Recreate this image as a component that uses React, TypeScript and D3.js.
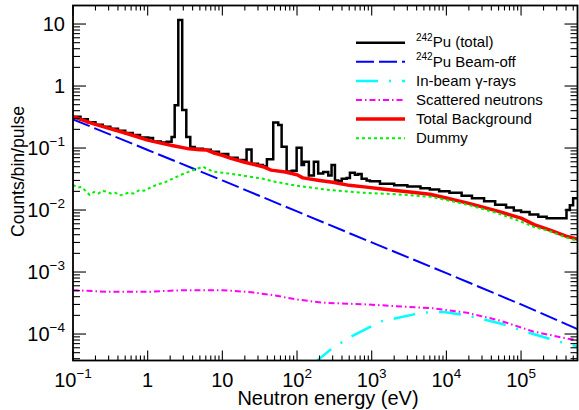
import React from "react";
import * as d3 from "d3";

type P = [number, number];

// ---- data (energy in eV, counts/bin/pulse) ----
const totalData: P[] = [
  [0.1, 0.32], [0.126, 0.29], [0.158, 0.26], [0.2, 0.238], [0.25, 0.22], [0.316, 0.205],
  [0.4, 0.19], [0.5, 0.175], [0.63, 0.162], [0.79, 0.148], [1.02, 0.145], [1.18, 0.127],
  [1.5, 0.123], [1.8, 0.126], [2.09, 0.15], [2.3, 0.49], [2.57, 11.6], [2.9, 0.41],
  [3.29, 0.15], [3.72, 0.104], [4.26, 0.097], [5.5, 0.094], [7, 0.087], [9, 0.08],
  [12, 0.07], [16, 0.064], [21.1, 0.095], [24.6, 0.056], [30, 0.053], [35, 0.051],
  [39.5, 0.066], [48, 0.257], [56, 0.236], [62.2, 0.105], [72.6, 0.042], [85, 0.043],
  [98.8, 0.101], [115, 0.053], [124, 0.06], [144, 0.036], [168, 0.06], [192, 0.039],
  [224, 0.041], [262, 0.036], [290, 0.053], [322, 0.03], [356, 0.029], [396, 0.032],
  [462, 0.033], [511, 0.04], [596, 0.037], [659, 0.038], [733, 0.032], [855, 0.03],
  [946, 0.029], [1290, 0.0265], [2000, 0.025], [3000, 0.024], [4500, 0.0225], [6000, 0.0215],
  [8000, 0.02], [11000, 0.019], [16000, 0.017], [22000, 0.0155], [32000, 0.0138],
  [45000, 0.0122], [63000, 0.011], [80000, 0.0098], [100000, 0.0093], [130000, 0.0085],
  [170000, 0.0078], [220000, 0.0074], [406000, 0.01], [450000, 0.0119], [498000, 0.0155],
  [570000, 0.0155],
];

const beamOffData: P[] = [
  [0.1, 0.29], [1, 0.093], [10, 0.03], [100, 0.0095], [1000, 0.003],
  [10000, 0.00096], [100000, 0.0003], [570000, 0.00012],
];

const inBeamGammaData: P[] = [
  [170, 3.4e-5], [275, 5.5e-5], [510, 8.9e-5], [1340, 1.6e-4], [4660, 2.2e-4],
  [9200, 2.27e-4], [19000, 2.0e-4], [56000, 1.45e-4], [145000, 1.0e-4],
  [400000, 7.0e-5], [570000, 6.3e-5],
];

const scatteredData: P[] = [
  [0.1, 5.1e-4], [0.3, 4.8e-4], [1, 4.8e-4], [3, 5.1e-4], [10, 5.1e-4], [25, 4.7e-4],
  [50, 4.2e-4], [100, 3.6e-4], [220, 3.2e-4], [850, 3.0e-4], [6700, 2.6e-4],
  [19000, 2.2e-4], [52000, 1.65e-4], [145000, 1.1e-4], [400000, 8.5e-5], [570000, 8.0e-5],
];

const totalBgData: P[] = [
  [0.1, 0.32], [0.18, 0.25], [0.28, 0.213], [0.5, 0.175], [0.78, 0.148], [1, 0.134],
  [1.5, 0.12], [2.2, 0.109], [3.6, 0.097], [5, 0.094], [6.1, 0.093], [7.5, 0.084],
  [10, 0.076], [13, 0.068], [20, 0.059], [35, 0.05], [45, 0.044], [70, 0.041],
  [100, 0.037], [120, 0.033], [200, 0.03], [300, 0.028], [500, 0.025], [850, 0.0234],
  [1300, 0.022], [2100, 0.0206], [3500, 0.0193], [6000, 0.018], [10000, 0.0156],
  [20000, 0.0128], [50000, 0.0095], [100000, 0.0074], [150000, 0.0058],
  [250000, 0.0047], [400000, 0.0038], [570000, 0.0034],
];

const dummyData: P[] = [
  [0.1, 0.0254], [0.115, 0.023], [0.13, 0.0235], [0.15, 0.02], [0.167, 0.0175],
  [0.19, 0.0195], [0.22, 0.0185], [0.25, 0.0205], [0.28, 0.0197], [0.32, 0.0185],
  [0.37, 0.019], [0.42, 0.0172], [0.47, 0.0178], [0.55, 0.019], [0.65, 0.0185],
  [0.78, 0.021], [0.9, 0.0205], [1.05, 0.0225], [1.3, 0.0254], [1.7, 0.028],
  [2.2, 0.0324], [2.8, 0.037], [3.6, 0.0417], [4.5, 0.046], [5.5, 0.05], [6.3, 0.046],
  [7.5, 0.0417], [10, 0.04], [17, 0.0367], [25, 0.034], [35, 0.032], [48, 0.029],
  [99, 0.0246], [276, 0.021], [760, 0.019], [2100, 0.018], [6000, 0.0164],
  [10000, 0.0145], [20000, 0.012], [50000, 0.0088], [100000, 0.0065],
  [150000, 0.0053], [250000, 0.0045], [400000, 0.0036], [570000, 0.0032],
];

const xMajorTicks = [0.1, 1, 10, 100, 1000, 10000, 100000];
const xTickLabels = ["10^−1", "1", "10", "10^2", "10^3", "10^4", "10^5"];
const yMajorTicks = [1e-4, 1e-3, 1e-2, 1e-1, 1, 10];
const yTickLabels = ["10^−4", "10^−3", "10^−2", "10^−1", "1", "10"];

const legendLabels = [
  { sup: "242", text: "Pu (total)" },
  { sup: "242", text: "Pu Beam-off" },
  { sup: "", text: "In-beam γ-rays" },
  { sup: "", text: "Scattered neutrons" },
  { sup: "", text: "Total Background" },
  { sup: "", text: "Dummy" },
];

const W = 579;
const H = 410;
const L = 73;
const R = 577.5;
const T = 5.5;
const B = 360.5;
const FONT = "'Liberation Sans', Arial, Helvetica, sans-serif";

const styles = [
  { color: "#000000", width: 2.5, dash: "" },
  { color: "#0000ff", width: 2, dash: "18 5" },
  { color: "#00ffff", width: 2.5, dash: "22 11 2 11" },
  { color: "#ff00ff", width: 2, dash: "6 3 1.5 3" },
  { color: "#ff0000", width: 3.5, dash: "" },
  { color: "#00ee00", width: 2, dash: "3 3" },
];

function Label({ s, ...rest }: any) {
  const [base, exp] = s.split("^");
  return (
    <text {...rest}>
      <tspan>{base}</tspan>
      {exp !== undefined && (
        <tspan dy={-9} fontSize={13.5}>
          {exp}
        </tspan>
      )}
    </text>
  );
}

export default function App() {
  const x = d3.scaleLog().domain([0.1, 5.7e5]).range([L, R]);
  const y = d3.scaleLog().domain([3.74e-5, 19.9]).range([B, T]);

  const lineLin = d3
    .line<P>()
    .x((d) => x(d[0]))
    .y((d) => y(d[1]));
  const lineStep = d3
    .line<P>()
    .x((d) => x(d[0]))
    .y((d) => y(d[1]))
    .curve(d3.curveStepAfter);

  const [, xMax] = x.domain();
  const [yMin, yMax] = y.domain();
  const xMinor: number[] = [];
  for (const d of xMajorTicks)
    for (let k = 2; k <= 9; k++) if (d * k <= xMax) xMinor.push(d * k);
  const yMinor: number[] = [];
  for (const d of [1e-5, ...yMajorTicks])
    for (let k = 2; k <= 9; k++) if (d * k >= yMin && d * k <= yMax) yMinor.push(d * k);

  const series = [
    { data: totalData, step: true },
    { data: beamOffData, step: false },
    { data: inBeamGammaData, step: false },
    { data: scatteredData, step: false },
    { data: totalBgData, step: false },
    { data: dummyData, step: false },
  ];

  const legendY0 = 42.7;
  const legendDy = 19.1;

  return (
    <svg
      width={W}
      height={H}
      style={{ position: "absolute", left: 0, top: 0, background: "#fff" }}
      fontFamily={FONT}
    >
      <rect x={0} y={0} width={W} height={H} fill="#fff" />
      <defs>
        <clipPath id="plotclip">
          <rect x={L} y={T} width={R - L} height={B - T} />
        </clipPath>
      </defs>

      <g clipPath="url(#plotclip)" fill="none">
        {series.map((s, i) => (
          <path
            key={i}
            d={(s.step ? lineStep : lineLin)(s.data) || ""}
            stroke={styles[i].color}
            strokeWidth={styles[i].width}
            strokeDasharray={styles[i].dash || undefined}
            strokeLinejoin={s.step ? "miter" : "round"}
          />
        ))}
      </g>

      {/* ticks */}
      <g stroke="#000" strokeWidth={1.1}>
        {xMajorTicks.map((v) => (
          <g key={"xM" + v}>
            <line x1={x(v)} x2={x(v)} y1={B} y2={B - 10} />
            <line x1={x(v)} x2={x(v)} y1={T} y2={T + 10} />
          </g>
        ))}
        {xMinor.map((v) => (
          <g key={"xm" + v}>
            <line x1={x(v)} x2={x(v)} y1={B} y2={B - 5} />
            <line x1={x(v)} x2={x(v)} y1={T} y2={T + 5} />
          </g>
        ))}
        {yMajorTicks.map((v) => (
          <g key={"yM" + v}>
            <line x1={L} x2={L + 13} y1={y(v)} y2={y(v)} />
            <line x1={R} x2={R - 13} y1={y(v)} y2={y(v)} />
          </g>
        ))}
        {yMinor.map((v) => (
          <g key={"ym" + v}>
            <line x1={L} x2={L + 7} y1={y(v)} y2={y(v)} />
            <line x1={R} x2={R - 7} y1={y(v)} y2={y(v)} />
          </g>
        ))}
      </g>

      <rect x={L} y={T} width={R - L} height={B - T} fill="none" stroke="#000" strokeWidth={1.8} />

      {/* tick labels */}
      <g fontSize={20} fill="#000">
        {xMajorTicks.map((v, i) => (
          <Label key={"xl" + v} s={xTickLabels[i]} x={x(v)} y={386.5} textAnchor="middle" />
        ))}
        {yMajorTicks.map((v, i) => (
          <Label key={"yl" + v} s={yTickLabels[i]} x={65} y={y(v) + 7} textAnchor="end" />
        ))}
      </g>

      {/* axis titles */}
      <text x={328} y={405} fontSize={20} textAnchor="middle">
        Neutron energy (eV)
      </text>
      <text
        transform={`translate(24,171.5) rotate(-90)`}
        fontSize={17.6}
        textAnchor="middle"
      >
        Counts/bin/pulse
      </text>

      {/* legend */}
      <g>
        {legendLabels.map((lg, i) => {
          const ly = legendY0 + i * legendDy;
          return (
            <g key={"lg" + i}>
              <line
                x1={356}
                x2={405}
                y1={ly}
                y2={ly}
                stroke={styles[i].color}
                strokeWidth={styles[i].width}
                strokeDasharray={styles[i].dash || undefined}
              />
              <text x={416} y={ly + 4.7} fontSize={15}>
                {lg.sup && (
                  <tspan fontSize={10} dy={-6.5}>
                    {lg.sup}
                  </tspan>
                )}
                <tspan dy={lg.sup ? 6.5 : 0}>{lg.text}</tspan>
              </text>
            </g>
          );
        })}
      </g>
    </svg>
  );
}
